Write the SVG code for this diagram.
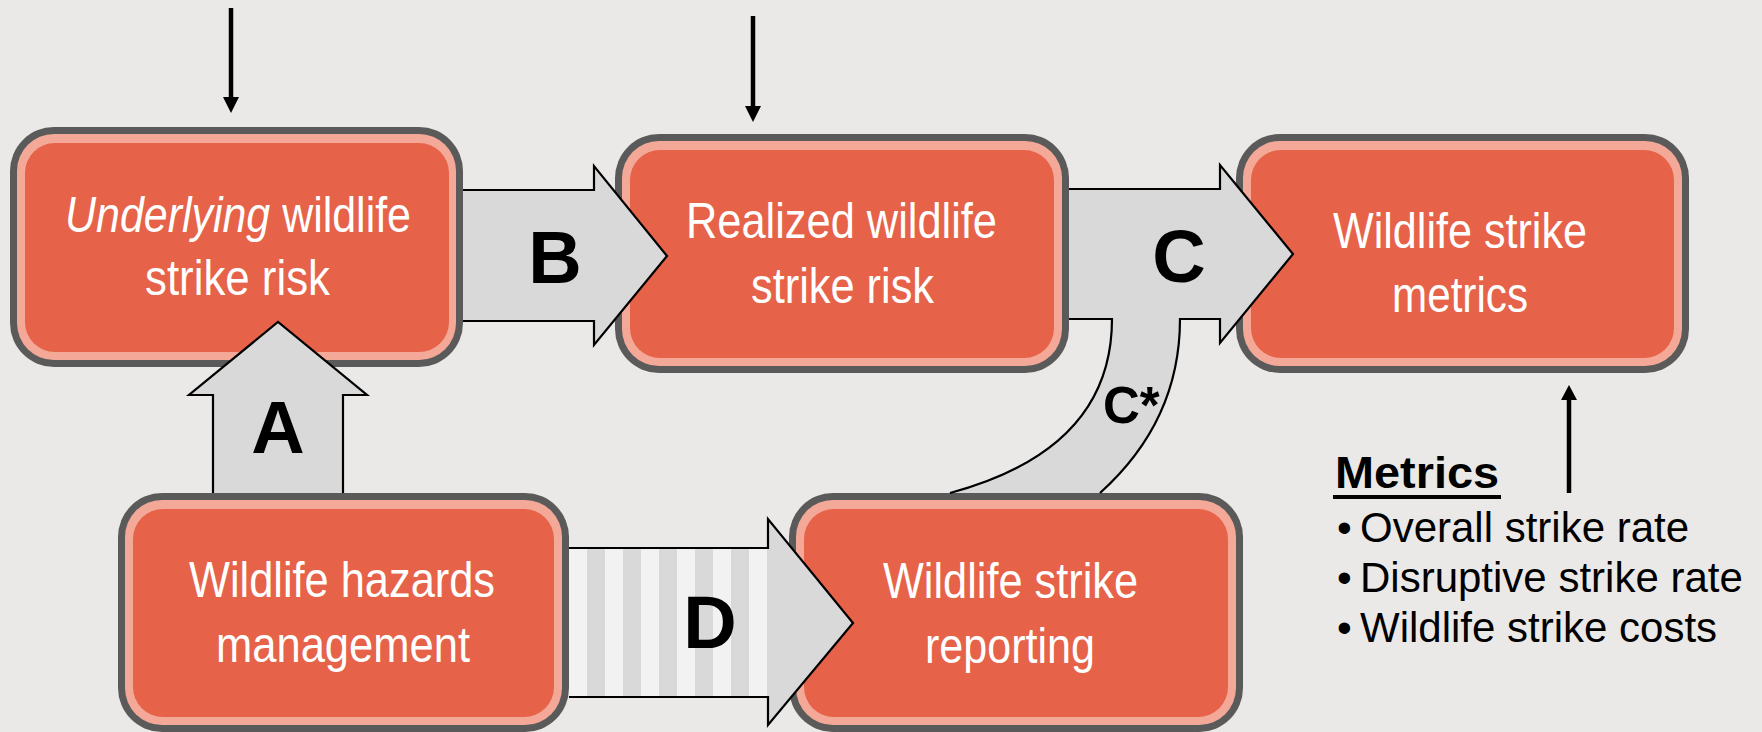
<svg xmlns="http://www.w3.org/2000/svg" width="1762" height="732" viewBox="0 0 1762 732">
<style>
.rim{fill:#5a5a5a}
.pink{fill:#f4a998}
.core{fill:#e66249}
.bt{font-family:"Liberation Sans Narrow","Liberation Sans",Arial,sans-serif;font-size:50px;fill:#ffffff}
.it{font-style:italic}
.lbl{font-family:"Liberation Sans",Arial,sans-serif;font-weight:bold;font-size:74px;fill:#000000;text-anchor:middle}
.mt{font-family:"Liberation Sans",Arial,sans-serif;font-size:42px;fill:#000000}
.afill{fill:#d9d9d9;stroke:none}
.aline{fill:none;stroke:#000000;stroke-width:2.2;stroke-linejoin:miter}
.thin{stroke:#000000;stroke-width:4.5;fill:none}
</style>
<defs>
<pattern id="stripes" x="569" y="0" width="36" height="20" patternUnits="userSpaceOnUse">
<rect x="0" y="0" width="18" height="20" fill="#f2f2f2"/>
<rect x="18" y="0" width="18" height="20" fill="#d9d9d9"/>
</pattern>
</defs>
<rect x="0" y="0" width="1762" height="732" fill="#ebe9e7"/>

<g id="node-underlying">
<rect class="rim" x="10" y="127" width="453" height="240" rx="44"/>
<rect class="pink" x="17" y="134" width="439" height="226" rx="37"/>
<rect class="core" x="25" y="143" width="424" height="209" rx="30"/>
<text class="bt" x="65" y="232" textLength="346" lengthAdjust="spacingAndGlyphs"><tspan class="it">Underlying</tspan> wildlife</text>
<text class="bt" x="145" y="295" textLength="185" lengthAdjust="spacingAndGlyphs">strike risk</text>
</g>

<g id="node-realized">
<rect class="rim" x="615" y="134" width="454" height="239" rx="44"/>
<rect class="pink" x="622" y="141" width="440" height="225" rx="37"/>
<rect class="core" x="630" y="150" width="424" height="208" rx="30"/>
<text class="bt" x="686" y="238" textLength="311" lengthAdjust="spacingAndGlyphs">Realized wildlife</text>
<text class="bt" x="751" y="303" textLength="183" lengthAdjust="spacingAndGlyphs">strike risk</text>
</g>

<g id="node-metrics">
<rect class="rim" x="1236" y="134" width="453" height="239" rx="44"/>
<rect class="pink" x="1243" y="141" width="439" height="225" rx="37"/>
<rect class="core" x="1251" y="150" width="423" height="208" rx="30"/>
<text class="bt" x="1333" y="248" textLength="254" lengthAdjust="spacingAndGlyphs">Wildlife strike</text>
<text class="bt" x="1392" y="312" textLength="136" lengthAdjust="spacingAndGlyphs">metrics</text>
</g>

<g id="node-hazards">
<rect class="rim" x="118" y="493" width="451" height="239" rx="44"/>
<rect class="pink" x="125" y="500" width="437" height="225" rx="37"/>
<rect class="core" x="133" y="509" width="421" height="208" rx="30"/>
<text class="bt" x="189" y="597" textLength="306" lengthAdjust="spacingAndGlyphs">Wildlife hazards</text>
<text class="bt" x="216" y="662" textLength="254" lengthAdjust="spacingAndGlyphs">management</text>
</g>

<g id="node-reporting">
<rect class="rim" x="789" y="493" width="454" height="239" rx="44"/>
<rect class="pink" x="796" y="500" width="440" height="225" rx="37"/>
<rect class="core" x="804" y="509" width="424" height="208" rx="30"/>
<text class="bt" x="883" y="598" textLength="255" lengthAdjust="spacingAndGlyphs">Wildlife strike</text>
<text class="bt" x="925" y="663" textLength="170" lengthAdjust="spacingAndGlyphs">reporting</text>
</g>

<g id="metrics-list">
<text x="1335" y="488" font-family="'Liberation Sans',Arial,sans-serif" font-weight="bold" font-size="45" textLength="164" lengthAdjust="spacingAndGlyphs">Metrics</text>
<line x1="1333" y1="497" x2="1501" y2="497" stroke="#000" stroke-width="4"/>
<text class="mt" y="542"><tspan x="1337">•</tspan><tspan x="1360">Overall strike rate</tspan></text>
<text class="mt" y="592"><tspan x="1337">•</tspan><tspan x="1360">Disruptive strike rate</tspan></text>
<text class="mt" y="642"><tspan x="1337">•</tspan><tspan x="1360">Wildlife strike costs</tspan></text>
</g>

<g id="connectors">
<line class="thin" x1="231" y1="8" x2="231" y2="100"/>
<polygon points="223,97 239,97 231,113" fill="#000"/>
<line class="thin" x1="753" y1="16" x2="753" y2="108"/>
<polygon points="745,106 761,106 753,122" fill="#000"/>
<line class="thin" x1="1569" y1="493" x2="1569" y2="398"/>
<polygon points="1561,400 1577,400 1569,385" fill="#000"/>

<path class="afill" d="M213,493 L213,395 L189,395 L278,322 L367,395 L343,395 L343,493 Z"/>
<path class="aline" d="M213,493 L213,395 L189,395 L278,322 L367,395 L343,395 L343,493"/>
<text class="lbl" x="278" y="453">A</text>

<path class="afill" d="M463,190 L594,190 L594,166 L667,256 L594,345 L594,321 L463,321 Z"/>
<path class="aline" d="M463,190 L594,190 L594,166 L667,256 L594,345 L594,321 L463,321"/>
<text class="lbl" x="555" y="283">B</text>

<path class="afill" d="M1069,189 L1220,189 L1220,165 L1293,254 L1220,343 L1220,319 L1180,319 C1180,390 1150,448 1100,493 L950,493 C1065,462 1112,400 1112,319 L1069,319 Z"/>
<path class="aline" d="M1069,189 L1220,189 L1220,165 L1293,254 L1220,343 L1220,319 L1180,319 C1180,390 1150,448 1100,493 M950,493 C1065,462 1112,400 1112,319 L1069,319"/>
<text class="lbl" x="1179" y="282">C</text>
<text x="1103" y="423" font-family="'Liberation Sans',Arial,sans-serif" font-weight="bold" font-size="51">C*</text>

<rect x="569" y="548" width="199" height="149" fill="url(#stripes)"/>
<path class="afill" d="M768,519 L853,623 L768,725 Z"/>
<path class="aline" d="M569,548 L768,548 L768,519 L853,623 L768,725 L768,697 L569,697"/>
<text class="lbl" x="710" y="648">D</text>
</g>
</svg>
